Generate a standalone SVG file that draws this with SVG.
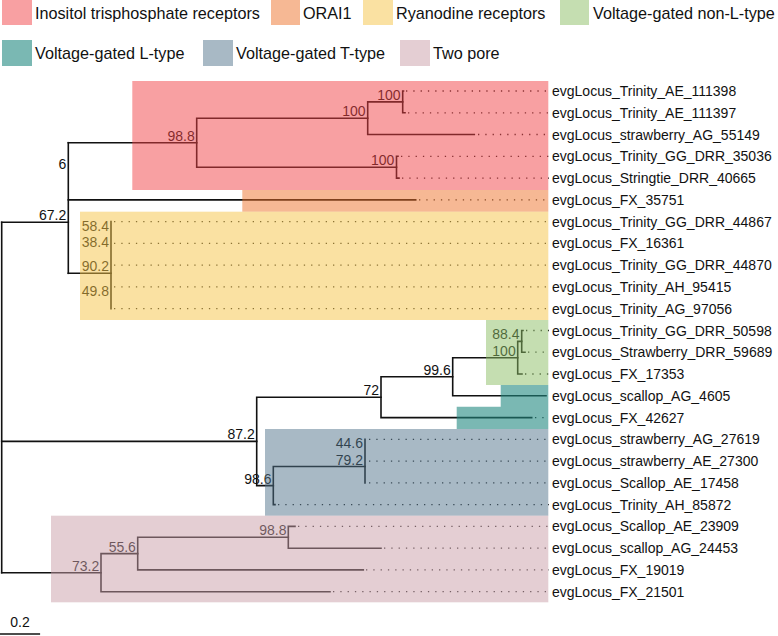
<svg xmlns="http://www.w3.org/2000/svg" width="778" height="636" viewBox="0 0 778 636">
<style>
  text { font-family: "Liberation Sans", Arial, sans-serif; fill: #111; }
  .leg { font-size: 16.2px; }
  .tip { font-size: 14px; }
  .sup { font-size: 14px; text-anchor: end; }
  .br { fill: none; stroke: #111; stroke-width: 1.6; stroke-linecap: square; }
  .dot { fill: none; stroke: #222; stroke-width: 1.3; stroke-dasharray: 1.3 6; }
  .ip3 { fill: #F14145; fill-opacity: 0.5; }
  .orai { fill: #ED7129; fill-opacity: 0.5; }
  .ryr { fill: #F5C345; fill-opacity: 0.5; }
  .nonl { fill: #8BBD63; fill-opacity: 0.5; }
  .ltype { fill: #218981; fill-opacity: 0.6; }
  .ttype { fill: #51738B; fill-opacity: 0.5; }
  .tpc { fill: #C99DA7; fill-opacity: 0.5; }
</style>
<rect width="778" height="636" fill="#fff"/>

<g id="legend">
  <rect class="ip3" x="2" y="0" width="30" height="25"/>
  <text class="leg" x="35" y="18.5">Inositol trisphosphate receptors</text>
  <rect class="orai" x="271" y="0" width="29" height="25"/>
  <text class="leg" x="303" y="18.5">ORAI1</text>
  <rect class="ryr" x="363" y="0" width="30" height="25"/>
  <text class="leg" x="396" y="18.5">Ryanodine receptors</text>
  <rect class="nonl" x="560" y="0" width="29" height="25"/>
  <text class="leg" x="593" y="18.5">Voltage-gated non-L-type</text>
  <rect class="ltype" x="2" y="40" width="30" height="26"/>
  <text class="leg" x="35" y="58.5">Voltage-gated L-type</text>
  <rect class="ttype" x="203" y="40" width="30" height="26"/>
  <text class="leg" x="236" y="58.5">Voltage-gated T-type</text>
  <rect class="tpc" x="400" y="40" width="30" height="26"/>
  <text class="leg" x="433" y="58.5">Two pore</text>
</g>

<g id="connectors">
  <!-- root -->
  <path class="br" d="M1.7,222.3 V572.7"/>
  <path class="br" d="M1.7,222.3 H68.3 M1.7,441.4 H256.7 M1.7,572.7 H101"/>
  <!-- 67.2 / 6 -->
  <path class="br" d="M68.3,142.7 V273.3"/>
  <path class="br" d="M68.3,142.7 H196.7 M68.3,199.9 H415.7 M68.3,273.3 H111"/>
  <!-- IP3 -->
  <path class="br" d="M196.7,118.2 V167.2 M196.7,118.2 H367.7 M196.7,167.2 H396.5"/>
  <path class="br" d="M367.7,101.9 V134.5 M367.7,101.9 H402.7 M367.7,134.5 H474.3"/>
  <path class="br" d="M402.7,91 V112.8 M402.7,91 H403.5 M402.7,112.8 H405"/>
  <path class="br" d="M396.5,156.3 V178.1 M396.5,156.3 H398 M396.5,178.1 H399"/>
  <!-- RyR -->
  <path class="br" d="M111,221.6 V308.7"/>
  <!-- 87.2 -->
  <path class="br" d="M256.7,397.2 V485.6 M256.7,397.2 H381 M256.7,485.6 H273.3"/>
  <path class="br" d="M381,376.8 V417.6 M381,376.8 H452.7 M381,417.6 H531.7"/>
  <path class="br" d="M452.7,357.7 V395.8 M452.7,357.7 H517.7 M452.7,395.8 H546"/>
  <path class="br" d="M517.7,341.4 V374 M517.7,341.4 H521.7 M517.7,374 H522"/>
  <path class="br" d="M521.7,330.5 V352.2 M521.7,330.5 H523 M521.7,352.2 H525"/>
  <path class="br" d="M273.3,466.5 V504.6 M273.3,466.5 H365 M273.3,504.6 H275"/>
  <path class="br" d="M365,439.3 V482.9"/>
  <!-- two pore -->
  <path class="br" d="M101,553.6 V591.7 M101,553.6 H137.7 M101,591.7 H330"/>
  <path class="br" d="M137.7,537.3 V569.9 M137.7,537.3 H288.3 M137.7,569.9 H363.3"/>
  <path class="br" d="M288.3,526.4 V548.2 M288.3,526.4 H295 M288.3,548.2 H381"/>
  <!-- dotted tip extensions -->
  <path class="dot" d="M406,91 H549 M408,112.8 H549 M478,134.5 H549 M401,156.3 H549 M402,178.1 H549 M419,199.9 H549
    M114,221.6 H549 M114,243.4 H549 M114,265.2 H549 M114,286.9 H549 M114,308.7 H549
    M526,330.5 H549 M528,352.2 H549 M525,374 H549 M535,417.6 H549
    M369,439.3 H549 M369,461.1 H549 M369,482.9 H549 M278,504.6 H549
    M298,526.4 H549 M384,548.2 H549 M366,569.9 H549 M333,591.7 H549"/>
</g>

<g id="support-labels">
  <g id="n-A"><text class="sup" x="400.5" y="99.9">100</text></g>
  <g id="n-B"><text class="sup" x="365.5" y="116.2">100</text></g>
  <g id="n-C"><text class="sup" x="394.3" y="165.2">100</text></g>
  <g id="n-D"><text class="sup" x="194.7" y="140.7">98.8</text></g>
  <g id="n-E"><text class="sup" x="66.3" y="169.3">6</text></g>
  <g id="n-F"><text class="sup" x="66.3" y="220.3">67.2</text></g>
  <g id="n-R1"><text class="sup" x="109" y="230.5">58.4</text></g>
  <g id="n-R2"><text class="sup" x="109" y="246.8">38.4</text></g>
  <g id="n-R4"><text class="sup" x="109" y="271.3">90.2</text></g>
  <g id="n-R3"><text class="sup" x="109" y="295.8">49.8</text></g>
  <g id="n-G1"><text class="sup" x="519.5" y="339.4">88.4</text></g>
  <g id="n-G2"><text class="sup" x="515.7" y="355.7">100</text></g>
  <g id="n-H"><text class="sup" x="450.7" y="374.8">99.6</text></g>
  <g id="n-I"><text class="sup" x="379" y="395.2">72</text></g>
  <g id="n-J"><text class="sup" x="254.7" y="439.4">87.2</text></g>
  <g id="n-T1"><text class="sup" x="363" y="448.2">44.6</text></g>
  <g id="n-T2"><text class="sup" x="363" y="464.5">79.2</text></g>
  <g id="n-T3"><text class="sup" x="271.5" y="483.6">98.6</text></g>
  <g id="n-P1"><text class="sup" x="286.5" y="535.3">98.8</text></g>
  <g id="n-P2"><text class="sup" x="135.9" y="551.6">55.6</text></g>
  <g id="n-P3"><text class="sup" x="99.2" y="570.7">73.2</text></g>
</g>

<g id="clade-boxes">
  <rect class="ip3" x="132.3" y="81" width="416" height="109"/>
  <rect class="orai" x="242.3" y="190" width="306" height="21.7"/>
  <rect class="ryr" x="80" y="211.7" width="468.3" height="108.3"/>
  <rect class="nonl" x="486" y="320" width="62.3" height="65"/>
  <path class="ltype" d="M500.7,385 H548.3 V429 H456.7 V406.7 H500.7 Z"/>
  <rect class="ttype" x="265" y="429" width="283.3" height="86.7"/>
  <rect class="tpc" x="51" y="515.7" width="497.3" height="86.6"/>
</g>

<g id="tips">
  <g id="t0"><text class="tip" x="552" y="96">evgLocus_Trinity_AE_111398</text></g>
  <g id="t1"><text class="tip" x="552" y="117.8">evgLocus_Trinity_AE_111397</text></g>
  <g id="t2"><text class="tip" x="552" y="139.5">evgLocus_strawberry_AG_55149</text></g>
  <g id="t3"><text class="tip" x="552" y="161.3">evgLocus_Trinity_GG_DRR_35036</text></g>
  <g id="t4"><text class="tip" x="552" y="183.1">evgLocus_Stringtie_DRR_40665</text></g>
  <g id="t5"><text class="tip" x="552" y="204.9">evgLocus_FX_35751</text></g>
  <g id="t6"><text class="tip" x="552" y="226.6">evgLocus_Trinity_GG_DRR_44867</text></g>
  <g id="t7"><text class="tip" x="552" y="248.4">evgLocus_FX_16361</text></g>
  <g id="t8"><text class="tip" x="552" y="270.2">evgLocus_Trinity_GG_DRR_44870</text></g>
  <g id="t9"><text class="tip" x="552" y="291.9">evgLocus_Trinity_AH_95415</text></g>
  <g id="t10"><text class="tip" x="552" y="313.7">evgLocus_Trinity_AG_97056</text></g>
  <g id="t11"><text class="tip" x="552" y="335.5">evgLocus_Trinity_GG_DRR_50598</text></g>
  <g id="t12"><text class="tip" x="552" y="357.2">evgLocus_Strawberry_DRR_59689</text></g>
  <g id="t13"><text class="tip" x="552" y="379">evgLocus_FX_17353</text></g>
  <g id="t14"><text class="tip" x="552" y="400.8">evgLocus_scallop_AG_4605</text></g>
  <g id="t15"><text class="tip" x="552" y="422.6">evgLocus_FX_42627</text></g>
  <g id="t16"><text class="tip" x="552" y="444.3">evgLocus_strawberry_AG_27619</text></g>
  <g id="t17"><text class="tip" x="552" y="466.1">evgLocus_strawberry_AE_27300</text></g>
  <g id="t18"><text class="tip" x="552" y="487.9">evgLocus_Scallop_AE_17458</text></g>
  <g id="t19"><text class="tip" x="552" y="509.6">evgLocus_Trinity_AH_85872</text></g>
  <g id="t20"><text class="tip" x="552" y="531.4">evgLocus_Scallop_AE_23909</text></g>
  <g id="t21"><text class="tip" x="552" y="553.2">evgLocus_scallop_AG_24453</text></g>
  <g id="t22"><text class="tip" x="552" y="574.9">evgLocus_FX_19019</text></g>
  <g id="t23"><text class="tip" x="552" y="596.7">evgLocus_FX_21501</text></g>
</g>

<g id="scale-bar">
  <text class="tip" x="20" y="627" text-anchor="middle">0.2</text>
  <path class="br" d="M0.5,634 H39.3" stroke-linecap="butt"/>
</g>
</svg>
